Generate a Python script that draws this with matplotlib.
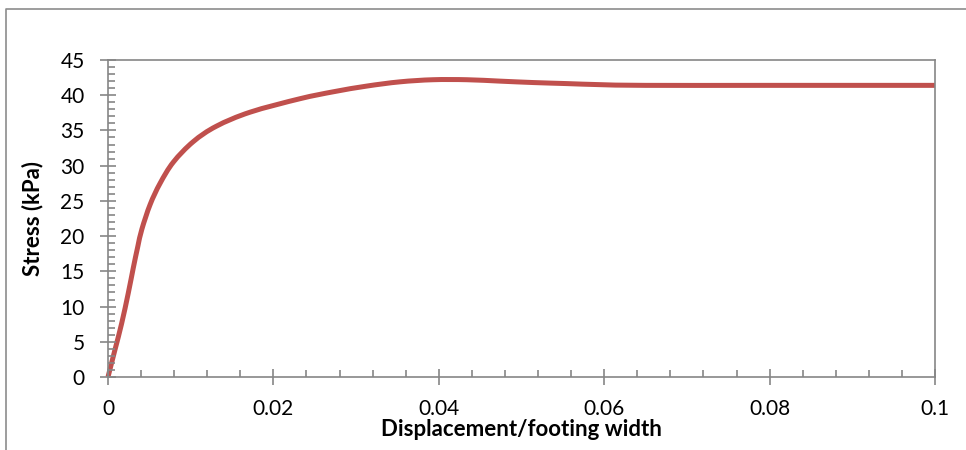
import matplotlib
matplotlib.use("Agg")
import matplotlib.pyplot as plt
import numpy as np
from matplotlib.lines import Line2D
from matplotlib.path import Path
from matplotlib.patches import PathPatch
from matplotlib.ticker import MultipleLocator

# Stress vs normalised displacement
disp = [0, 0.00085, 0.00165, 0.00245, 0.00306, 0.0036, 0.0041, 0.0051, 0.0063,
        0.0079, 0.0103, 0.0131, 0.0172, 0.0232, 0.0273, 0.0313, 0.0353, 0.0393,
        0.0434, 0.0474, 0.0514, 0.0555, 0.0595, 0.0650, 0.0800, 0.1]
stress = [0, 3.9, 7.6, 11.9, 15.5, 18.5, 21.0, 24.5, 27.5,
          30.5, 33.4, 35.6, 37.6, 39.5, 40.5, 41.3, 41.9, 42.2,
          42.2, 42.0, 41.8, 41.65, 41.5, 41.4, 41.4, 41.4]
xticklabels = ['0', '0.02', '0.04', '0.06', '0.08', '0.1']

plt.rcParams['font.family'] = ['Lato', 'DejaVu Sans']
grey = '#868686'

fig = plt.figure(figsize=(9.66, 4.5), dpi=100)
ax = fig.add_axes([108/966, 1 - 377/450, 827/966, 317/450])


def smooth_path(xs, ys):
    # Excel-style smoothed line: Catmull-Rom segments as cubic Beziers
    p = np.column_stack([xs, ys])
    p = np.vstack([p[0], p, p[-1]])
    verts = [p[1]]
    codes = [Path.MOVETO]
    for i in range(1, len(p) - 2):
        c1 = p[i] + (p[i + 1] - p[i - 1]) / 6
        c2 = p[i + 1] - (p[i + 2] - p[i]) / 6
        verts += [c1, c2, p[i + 1]]
        codes += [Path.CURVE4] * 3
    return Path(verts, codes)


ax.add_patch(PathPatch(smooth_path(disp, stress), fill=False,
                       edgecolor='#C0504D', lw=3.6, capstyle='butt',
                       joinstyle='round', clip_on=False))

ax.set_xlim(0, 0.1)
ax.set_ylim(0, 45)
ax.set_xticks([0, 0.02, 0.04, 0.06, 0.08, 0.1])
ax.set_xticklabels(xticklabels)
ax.xaxis.set_minor_locator(MultipleLocator(0.004))
ax.yaxis.set_major_locator(MultipleLocator(5))
ax.yaxis.set_minor_locator(MultipleLocator(1))

for s in ax.spines.values():
    s.set_color(grey)
    s.set_linewidth(1.2)

ax.tick_params(which='major', direction='inout', length=11.5, width=1.2,
               color=grey, labelsize=15, labelcolor='black')
ax.tick_params(axis='x', which='major', pad=10)
ax.tick_params(axis='y', which='major', pad=11)
ax.tick_params(which='minor', direction='in', length=5, width=1.2, color=grey)

ax.set_xlabel('Displacement/footing width', fontsize=16, fontweight='bold',
              va='baseline')
ax.xaxis.set_label_coords(0.5, (377 - 436) / 317)
ax.set_ylabel('Stress (kPa)', fontsize=16, fontweight='bold', va='center')
ax.yaxis.set_label_coords((33 - 108) / 827, 0.5)

# outer chart frame (runs off the right and bottom edge)
fig.add_artist(Line2D([6/966, 6/966, 1.01], [-0.01, 1 - 9/450, 1 - 9/450],
                      transform=fig.transFigure, color='#8c8c8c', lw=1.2))

fig.savefig('out.png', dpi=100)
